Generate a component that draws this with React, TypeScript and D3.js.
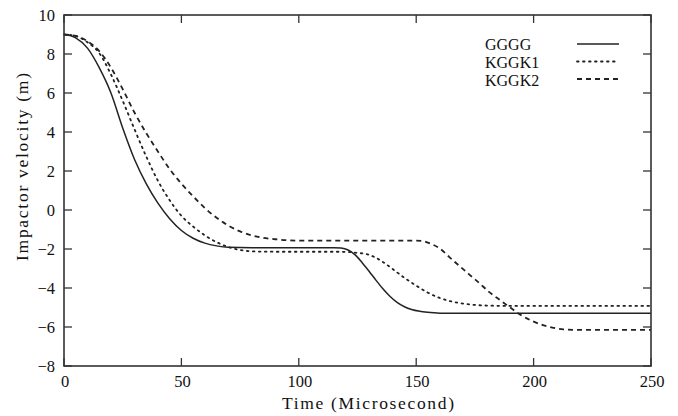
import React from "react";
import * as d3 from "d3";

const xTicks = [0, 50, 100, 150, 200, 250];
const yTicks = [-8, -6, -4, -2, 0, 2, 4, 6, 8, 10];

const seriesNames = ["GGGG", "KGGK1", "KGGK2"];

const ggggT = [0, 5, 10, 15, 20, 25, 30, 35, 40, 45, 50, 55, 60, 65, 70, 80, 100, 115, 118, 121, 124, 127, 130, 133, 136, 139, 142, 145, 148, 152, 156, 161, 170, 250];
const ggggV = [9.0, 8.83, 8.3, 7.3, 6.0, 4.2, 2.6, 1.35, 0.35, -0.45, -1.05, -1.45, -1.7, -1.84, -1.91, -1.93, -1.93, -1.93, -1.95, -2.05, -2.3, -2.7, -3.15, -3.62, -4.07, -4.45, -4.75, -4.96, -5.1, -5.2, -5.26, -5.3, -5.3, -5.3];

const kggk1T = [0, 5, 10, 15, 20, 25, 30, 35, 40, 45, 50, 55, 60, 65, 70, 75, 80, 90, 115, 120, 125, 130, 135, 140, 145, 150, 155, 160, 165, 170, 175, 180, 190, 250];
const kggk1V = [9.0, 8.92, 8.6, 8.05, 6.95, 5.6, 4.15, 2.75, 1.5, 0.5, -0.3, -0.85, -1.3, -1.65, -1.9, -2.05, -2.12, -2.14, -2.14, -2.15, -2.2, -2.3, -2.6, -3.03, -3.48, -3.88, -4.24, -4.51, -4.69, -4.8, -4.87, -4.9, -4.92, -4.92];

const kggk2T = [0, 5, 10, 15, 20, 25, 30, 35, 40, 45, 50, 55, 60, 65, 70, 75, 80, 85, 90, 95, 100, 150, 153, 156, 160, 164, 168.7, 173, 177, 181, 185.7, 190, 194.2, 199, 204, 208, 212.7, 220, 250];
const kggk2V = [9.0, 8.93, 8.65, 8.15, 7.3, 6.2, 5.0, 3.95, 3.0, 2.1, 1.35, 0.7, 0.1, -0.4, -0.8, -1.1, -1.3, -1.43, -1.5, -1.55, -1.57, -1.57, -1.6, -1.72, -1.97, -2.4, -2.9, -3.35, -3.76, -4.2, -4.62, -5.0, -5.36, -5.67, -5.9, -6.03, -6.12, -6.15, -6.15];

const seriesT = [ggggT, kggk1T, kggk2T];
const seriesV = [ggggV, kggk1V, kggk2V];

const W = 678;
const H = 416;
const left = 64;
const right = 651;
const top = 15;
const bottom = 366;
const ink = "#222";
const serif = "Times New Roman, Times, Liberation Serif, Nimbus Roman, DejaVu Serif, Noto Serif, serif";
const tStyle = { fontFamily: serif };

const dashes = ["none", "1.6,4.4", "5,4"];
const caps: ("butt" | "round")[] = ["butt", "round", "butt"];

export default function App() {
  const x = d3.scaleLinear().domain([0, 250]).range([left, right]);
  const y = d3.scaleLinear().domain([-8, 10]).range([bottom, top]);
  const line = d3
    .line<[number, number]>()
    .x((d) => x(d[0]))
    .y((d) => y(d[1]))
    .curve(d3.curveMonotoneX);

  const fmt = (v: number) => (v < 0 ? "\u2212" + Math.abs(v) : String(v));
  const tickLen = 8;

  return (
    <svg
      width={W}
      height={H}
      fontFamily={serif}
      style={{ position: "absolute", left: 0, top: 0, background: "#fff", fontFamily: serif }}
    >
      <rect x={0} y={0} width={W} height={H} fill="#fff" />
      {seriesT.map((ts, i) => {
        const pts: [number, number][] = ts.map((t, j) => [t, seriesV[i][j]]);
        return (
          <path
            key={i}
            d={line(pts) || ""}
            fill="none"
            stroke={ink}
            strokeWidth={i === 0 ? 1.5 : 1.8}
            strokeDasharray={dashes[i]}
            strokeLinecap={caps[i]}
          />
        );
      })}
      <rect x={left} y={top} width={right - left} height={bottom - top} fill="none" stroke="#333" strokeWidth={1.6} />
      {xTicks.map((t) => (
        <g key={"x" + t}>
          <line x1={x(t)} x2={x(t)} y1={bottom} y2={bottom - tickLen} stroke="#333" strokeWidth={1.3} />
          <line x1={x(t)} x2={x(t)} y1={top} y2={top + tickLen} stroke="#333" strokeWidth={1.3} />
          <text x={x(t) + 1} y={387} textAnchor="middle" fontSize={16.5} fill="#111" style={tStyle}>
            {t}
          </text>
        </g>
      ))}
      {yTicks.map((t) => (
        <g key={"y" + t}>
          <line x1={left} x2={left + tickLen} y1={y(t)} y2={y(t)} stroke="#333" strokeWidth={1.3} />
          <line x1={right} x2={right - tickLen} y1={y(t)} y2={y(t)} stroke="#333" strokeWidth={1.3} />
          <text x={55} y={y(t)} dy="0.35em" textAnchor="end" fontSize={16.5} fill="#111" style={tStyle}>
            {fmt(t)}
          </text>
        </g>
      ))}
      <text
        x={368}
        y={409}
        textAnchor="middle"
        fontSize={17.5}
        fill="#111"
        style={tStyle}
        textLength={172}
        lengthAdjust="spacing"
      >
        Time (Microsecond)
      </text>
      <text
        transform={`translate(28,167) rotate(-90)`}
        textAnchor="middle"
        fontSize={17.5}
        fill="#111"
        style={tStyle}
        textLength={188}
        lengthAdjust="spacing"
      >
        Impactor velocity (m)
      </text>
      {seriesNames.map((name, i) => (
        <g key={name}>
          <text x={485} y={50 + i * 18} fontSize={16} fill="#111" style={tStyle}>
            {name}
          </text>
          <line
            x1={577}
            x2={619}
            y1={44 + i * 17.5}
            y2={44 + i * 17.5}
            stroke={ink}
            strokeWidth={i === 0 ? 1.5 : 1.8}
            strokeDasharray={dashes[i]}
            strokeLinecap={caps[i]}
          />
        </g>
      ))}
    </svg>
  );
}
